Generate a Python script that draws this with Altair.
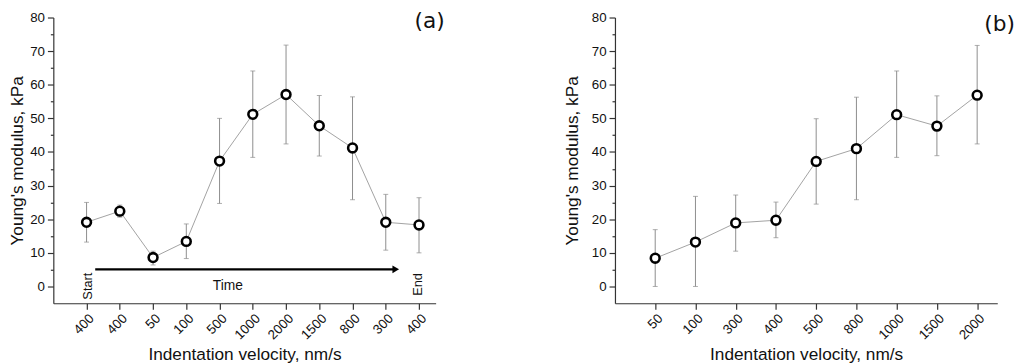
import json
import altair as alt
import pandas as pd

# ---------------- data ----------------
# Panel (a): measurements in chronological order
a_labels = ["400", "400", "50", "100", "500", "1000", "2000", "1500", "800", "300", "400"]
a_mean = [19.1, 22.4, 8.6, 13.4, 37.3, 51.2, 57.1, 47.8, 41.2, 19.1, 18.3]
a_hi = [25.0, 24.2, 10.5, 18.6, 50.0, 64.1, 71.8, 56.8, 56.4, 27.4, 26.4]
a_lo = [13.2, 20.6, 6.4, 8.3, 24.7, 38.4, 42.4, 38.8, 25.8, 10.8, 10.0]

# Panel (b): sorted by velocity
b_labels = ["50", "100", "300", "400", "500", "800", "1000", "1500", "2000"]
b_mean = [8.4, 13.2, 18.9, 19.7, 37.2, 41.0, 51.1, 47.7, 56.9]
b_hi = [16.9, 26.8, 27.2, 25.1, 49.9, 56.3, 64.1, 56.7, 71.7]
b_lo = [0.0, 0.0, 10.5, 14.5, 24.5, 25.8, 38.4, 38.9, 42.4]

# Time-arrow annotation for panel (a) (data units)
arrow_start = 0.26
arrow_end = 9.3
arrow_y = 5.1
time_text = ["Time"]
start_text = ["Start"]
end_text = ["End"]

FONT = "Liberation Sans"
Y_TITLE = "Young's modulus, kPa"
X_TITLE = "Indentation velocity, nm/s"
ERR_COLOR = "#8c8c8c"
LABEL_SIZE = 13.5
TITLE_SIZE = 17.5


def panel(labels, mean, hi, lo, tag, tag_x, tag_y, title_pad, extra_fn=None):
    n = len(labels)
    df = pd.DataFrame({"i": list(range(n)), "m": mean, "hi": hi, "lo": lo})
    xscale = alt.Scale(domain=[-1, n - 0.5], nice=False, zero=False)
    xaxis = alt.Axis(
        values=list(range(n)),
        labelExpr=json.dumps(labels) + "[datum.value]",
        labelAngle=-45,
        title=X_TITLE,
        grid=False,
        tickSize=6,
        labelPadding=2,
        titlePadding=4,
        labelOverlap=False,
        labelFontSize=LABEL_SIZE,
        labelFont=FONT,
    )
    yscale = alt.Scale(domain=[-5, 80], nice=False, zero=False)
    yaxis = alt.Axis(
        values=list(range(0, 81, 5)),
        labelExpr="datum.value % 10 === 0 ? datum.label : ''",
        tickSize={"condition": {"test": "datum.value % 10 === 0", "value": 6}, "value": 3},
        labelOverlap=False,
        grid=False,
        title=Y_TITLE,
        labelPadding=3,
        titlePadding=title_pad,
        labelFontSize=LABEL_SIZE,
        labelFont=FONT,
    )

    def X(f):
        return alt.X(f, scale=xscale, axis=xaxis, title=X_TITLE)

    def Y(f):
        return alt.Y(f, scale=yscale, axis=yaxis, title=Y_TITLE)

    base = alt.Chart(df)
    line = base.mark_line(color="#8a8a8a", strokeWidth=0.8).encode(x=X("i:Q"), y=Y("m:Q"))
    err = base.mark_rule(color=ERR_COLOR, strokeWidth=1).encode(
        x=X("i:Q"), y=Y("lo:Q"), y2="hi:Q"
    )
    cap_hi = base.mark_tick(orient="horizontal", size=5, thickness=1, color=ERR_COLOR).encode(
        x=X("i:Q"), y=Y("hi:Q")
    )
    cap_lo = base.mark_tick(orient="horizontal", size=5, thickness=1, color=ERR_COLOR).encode(
        x=X("i:Q"), y=Y("lo:Q")
    )
    pts = base.mark_point(
        shape="circle", size=80, fill="white", stroke="black", strokeWidth=2.6,
        opacity=1, fillOpacity=1,
    ).encode(x=X("i:Q"), y=Y("m:Q"))
    tag_df = pd.DataFrame({"x": [tag_x], "y": [tag_y], "t": [tag]})
    tag_mark = alt.Chart(tag_df).mark_text(
        font="DejaVu Sans", fontSize=22, color="#111", align="center", baseline="middle"
    ).encode(x=X("x:Q"), y=Y("y:Q"), text="t:N")
    layers = [line, err, cap_hi, cap_lo, pts, tag_mark]
    if extra_fn:
        layers += extra_fn(X, Y)
    return alt.layer(*layers).properties(width=388, height=290)


def time_annotations(X, Y):
    arrow_df = pd.DataFrame({"x": [arrow_start], "x2": [arrow_end], "y": [arrow_y]})
    arrow = alt.Chart(arrow_df).mark_rule(color="black", strokeWidth=2.2).encode(
        x=X("x:Q"), x2="x2:Q", y=Y("y:Q")
    )
    head_df = pd.DataFrame({"x": [arrow_end], "y": [arrow_y]})
    head = alt.Chart(head_df).mark_point(
        shape="triangle-right", filled=True, color="black", size=60, opacity=1
    ).encode(x=X("x:Q"), y=Y("y:Q"))
    time_df = pd.DataFrame({"x": [4.25], "y": [0.0], "t": time_text})
    time_mark = alt.Chart(time_df).mark_text(
        font=FONT, fontSize=14, color="#111", baseline="middle", align="center"
    ).encode(x=X("x:Q"), y=Y("y:Q"), text="t:N")
    start_df = pd.DataFrame({"x": [0.03], "y": [0.1], "t": start_text})
    start_mark = alt.Chart(start_df).mark_text(
        font=FONT, fontSize=13, color="#111", angle=270, baseline="middle", align="center"
    ).encode(x=X("x:Q"), y=Y("y:Q"), text="t:N")
    end_df = pd.DataFrame({"x": [9.97], "y": [0.6], "t": end_text})
    end_mark = alt.Chart(end_df).mark_text(
        font=FONT, fontSize=13, color="#111", angle=270, baseline="middle", align="center"
    ).encode(x=X("x:Q"), y=Y("y:Q"), text="t:N")
    return [arrow, head, time_mark, start_mark, end_mark]


left = panel(a_labels, a_mean, a_hi, a_lo, "(a)", 10.32, 78.8, 3, extra_fn=time_annotations)
right = panel(b_labels, b_mean, b_hi, b_lo, "(b)", 8.56, 77.9, 10)

chart = (
    alt.hconcat(left, right, spacing=119)
    .properties(padding=0, background="white")
    .configure_view(stroke=None)
    .configure_axis(
        domainColor="#333",
        tickColor="#333",
        domainWidth=1.2,
        tickWidth=1.2,
        labelColor="#111",
        titleColor="#111",
        labelFont=FONT,
        titleFont=FONT,
        labelFontSize=LABEL_SIZE,
        titleFontSize=TITLE_SIZE,
        titleFontWeight="normal",
        labelOverlap=False,
    )
)

chart.save("out.html", embed_options={"renderer": "svg", "actions": False})
